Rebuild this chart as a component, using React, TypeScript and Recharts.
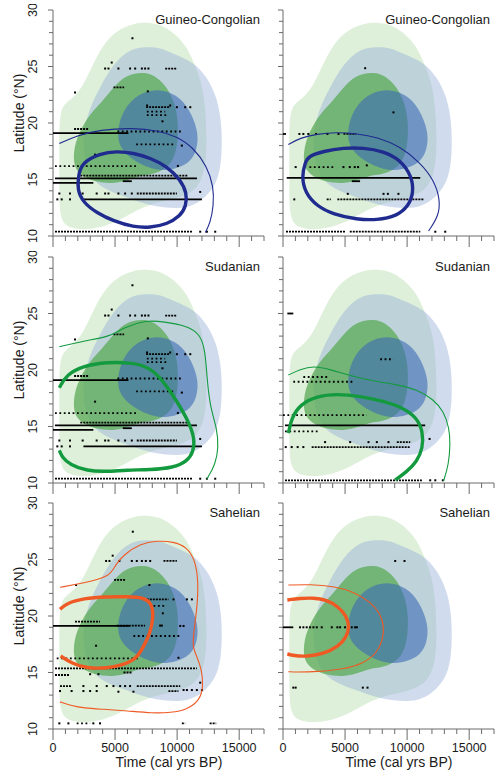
import React from 'react';
import { ScatterChart, Scatter, XAxis, YAxis, Curve } from 'recharts';

type P = [number, number];
type Run = [number, number, number, string];

// ---------- axes ----------
const xTicks = [0, 1000, 2000, 3000, 4000, 5000, 6000, 7000, 8000, 9000, 10000, 11000, 12000, 13000, 14000, 15000, 16000, 17000];
const yTicks = [10, 11, 12, 13, 14, 15, 16, 17, 18, 19, 20, 21, 22, 23, 24, 25, 26, 27, 28, 29, 30];
const xMajor = [0, 5000, 10000, 15000];
const yMajor = [10, 15, 20, 25, 30];

// ---------- shaded zones (same in every panel) ----------
const lightGreenZone: P[] = [
  [510, 21.4], [1370, 22.0], [2310, 23.0], [3120, 24.96], [4060, 27.0], [5140, 28.2], [6480, 28.85], [7830, 28.9],
  [8900, 28.6], [9980, 27.75], [10790, 26.7], [11330, 25.4], [12000, 23.5], [12270, 21.4], [12400, 18.5], [12270, 15.5],
  [11330, 13.75], [9440, 13.2], [8100, 12.9], [6750, 12.3], [5410, 11.4], [4060, 10.8], [2720, 10.56], [1640, 10.65],
  [510, 11.1], [510, 14.5], [510, 18.0],
];
const lightBlueZone: P[] = [
  [6210, 26.58], [7560, 26.73], [8630, 26.67], [9710, 26.1], [11330, 25.4], [12400, 24.07], [13210, 22.3], [13610, 19.94],
  [13610, 17.0], [13340, 15.2], [12800, 14.04], [11860, 13.0], [10790, 12.5], [9440, 12.45], [8100, 12.65], [7020, 13.0],
  [5410, 13.6], [3790, 14.34], [2850, 15.5], [2450, 17.3], [2450, 19.06], [2850, 21.1], [3790, 23.2], [4870, 25.25],
];
const greenZone: P[] = [
  [5410, 23.92], [6480, 24.42], [7560, 24.48], [8370, 24.07], [9170, 23.19], [9850, 21.71], [10110, 19.94], [10030, 17.88],
  [9580, 16.4], [8630, 15.66], [7560, 15.37], [7020, 15.37], [5680, 14.78], [4330, 14.63], [2990, 14.93], [2040, 15.52],
  [1640, 16.4], [1690, 17.88], [2180, 19.35], [2990, 20.83], [4060, 22.0],
];
const blueZone: P[] = [
  [5140, 18.76], [5410, 20.53], [6210, 22.0], [7560, 22.9], [8900, 22.95], [10250, 22.3], [11190, 20.83], [11730, 19.06],
  [11590, 17.58], [11060, 16.55], [9980, 15.96], [8630, 15.75], [7560, 16.1], [6480, 16.7], [5540, 17.58],
];

// ---------- site records ----------
const allSitesRuns: Run[] = [
  [10.38, 160, 11270, 'dense'], [13.24, 2450, 12000, 'solid'], [13.76, 6750, 9980, 'dense'], [14.7, 0, 3250, 'solid'],
  [14.85, 5620, 6350, 'solid'], [15.1, 160, 11600, 'solid'], [15.35, 2200, 10900, 'dense'], [16.18, 160, 6750, 'sparse'],
  [18.1, 6700, 9710, 'sparse'], [19.1, 0, 6080, 'solid'], [19.25, 5190, 10380, 'sparse'], [19.47, 1700, 2850, 'dense'],
  [20.7, 7560, 9170, 'sparse'], [21.0, 7560, 9040, 'sparse'], [21.4, 7500, 9440, 'dense'], [23.15, 4870, 5730, 'dense'],
  [24.82, 9040, 9930, 'dense'],
];
const allSitesDots: P[] = [
  [350, 13.24], [700, 13.24], [1370, 13.24],
  [510, 13.76], [1370, 13.76], [2390, 13.76], [3520, 13.76], [4200, 13.76], [4470, 13.76], [5270, 13.76], [5810, 13.76], [6350, 13.76],
  [11860, 13.9], [11860, 10.38], [12400, 10.38], [13070, 10.38], [10060, 16.2], [3390, 17.2], [10380, 18.0], [8820, 20.15],
  [9980, 21.4], [10650, 21.4], [11060, 21.4], [7580, 21.55], [9440, 21.55], [7640, 22.8], [1775, 22.7],
  [4200, 24.82], [4470, 24.82], [5270, 24.82], [6210, 24.82], [6620, 24.82], [7160, 24.82], [7420, 24.82], [7690, 24.82],
  [4730, 25.35], [6400, 27.5],
];

const gcRightRuns: Run[] = [
  [10.38, 240, 5000, 'dense'], [10.38, 5380, 11060, 'dense'], [13.24, 4380, 11330, 'dense'], [13.24, 3520, 3850, 'dense'],
  [15.15, 300, 11060, 'solid'], [14.85, 5540, 6210, 'solid'], [16.1, 2130, 4060, 'sparse'], [19.03, 0, 240, 'solid'],
  [19.03, 4870, 5900, 'dense'],
];
const gcRightDots: P[] = [
  [12270, 10.38], [13070, 10.38], [910, 13.24], [5220, 13.73], [8100, 13.73], [8450, 13.73], [9300, 13.73],
  [1020, 16.1], [4870, 16.1], [5380, 16.1], [5780, 16.1], [6050, 16.1], [6750, 16.25],
  [1320, 19.03], [1640, 19.03], [2040, 19.03], [2660, 19.03], [3580, 19.03], [4470, 19.03], [6620, 24.85], [8900, 20.94],
];

const sudRightRuns: Run[] = [
  [10.24, 160, 11190, 'dense'], [13.18, 2310, 10250, 'dense'], [13.62, 9170, 10250, 'dense'], [15.1, 160, 11460, 'solid'],
  [16.0, 0, 6750, 'sparse'], [18.96, 830, 5680, 'sparse'], [19.38, 1640, 3660, 'sparse'], [20.95, 7830, 8900, 'sparse'],
  [25.0, 350, 830, 'solid'], [14.57, 160, 2990, 'sparse'],
];
const sudRightDots: P[] = [
  [11860, 10.24], [12270, 10.24], [12880, 10.24], [220, 13.18], [700, 13.18], [1180, 13.18], [1640, 13.18],
  [3390, 13.62], [5410, 13.62], [6890, 13.62], [7560, 13.62], [8500, 13.62], [11810, 13.9],
];

const sahLeftRuns: Run[] = [
  [13.8, 6750, 10250, 'dense'], [13.8, 565, 1500, 'dense'], [15.37, 160, 11590, 'dense'], [15.0, 5680, 6350, 'dense'],
  [16.25, 300, 7020, 'sparse'], [18.23, 6480, 10380, 'sparse'], [19.12, 0, 6210, 'solid'], [19.15, 5140, 7420, 'dense'],
  [19.5, 1775, 3790, 'dense'], [20.9, 8100, 9170, 'sparse'], [21.47, 7560, 9300, 'dense'], [23.2, 4920, 5810, 'dense'],
  [24.87, 8900, 9980, 'dense'], [13.36, 9300, 10110, 'dense'], [10.5, 1910, 2990, 'sparse'], [10.5, 10380, 10650, 'dense'],
  [10.5, 12620, 13150, 'dense'], [14.78, 160, 1370, 'dense'],
];
const sahLeftDots: P[] = [
  [510, 10.5], [1240, 10.5], [3250, 10.5], [3790, 10.5],
  [565, 13.36], [1500, 13.36], [2450, 13.36], [2990, 13.36], [3520, 13.36], [5270, 13.3], [6480, 13.3],
  [10520, 13.45], [10790, 13.45], [11190, 13.45], [11590, 13.45], [12000, 13.45],
  [2450, 13.8], [3520, 13.8], [4330, 13.8], [4870, 13.8], [5410, 13.8], [5810, 13.8], [6210, 13.8], [11860, 14.1],
  [2990, 14.85], [3660, 14.85], [10110, 16.3], [3470, 17.37],
  [8630, 19.15], [8770, 19.15], [10250, 19.12], [10520, 19.12], [8850, 20.24],
  [9710, 21.47], [10790, 21.47], [11190, 21.47], [1860, 22.74], [7770, 22.74],
  [4280, 24.87], [4550, 24.87], [5350, 24.87], [6350, 24.87], [6750, 24.87], [7160, 24.87], [7480, 24.87], [7830, 24.87],
  [4810, 25.34], [6430, 27.46],
];

const sahRightRuns: Run[] = [[19.0, 0, 830, 'solid']];
const sahRightDots: P[] = [
  [1370, 19.0], [1640, 19.0], [1910, 19.0], [2180, 19.0], [2450, 19.0], [2720, 19.0], [3120, 19.0], [3930, 19.0],
  [4380, 19.0], [4600, 19.0], [5000, 19.0], [5270, 19.0], [5540, 19.0], [5810, 19.0], [5950, 19.0],
  [830, 13.66], [1020, 13.66], [6430, 13.66], [6810, 13.66], [9040, 24.87], [9790, 24.87],
];

// ---------- contour lines ----------
const gcLeftThick: P[] = [
  [2310, 16.47], [3790, 17.3], [5140, 17.5], [6480, 17.35], [7830, 16.9], [9170, 16.18], [10250, 15.0], [10790, 13.82],
  [10730, 12.65], [10250, 11.76], [9170, 11.03], [7830, 10.74], [6480, 10.8], [4870, 11.32], [3520, 12.06], [2450, 12.94],
  [1960, 14.1], [2040, 15.3],
];
const gcLeftThin: P[] = [
  [510, 18.18], [1910, 18.88], [3790, 19.41], [6480, 19.56], [8370, 19.35], [9980, 18.82], [11330, 17.8], [12400, 16.18],
  [12940, 14.41], [12940, 12.65], [12670, 11.18], [12270, 10.3],
];
const gcRightThick: P[] = [
  [2040, 17.06], [3250, 17.5], [4870, 17.8], [6480, 17.8], [8100, 17.5], [9440, 16.76], [10380, 15.3], [10520, 13.82],
  [10110, 12.65], [9170, 11.76], [7560, 11.4], [5950, 11.47], [4060, 11.91], [2720, 12.65], [1780, 13.82], [1510, 15.3],
  [1780, 16.47],
];
const gcRightThin: P[] = [
  [430, 18.09], [1370, 18.68], [2720, 19.03], [4330, 19.18], [5950, 19.06], [7560, 18.76], [9440, 17.94], [11060, 16.47],
  [12130, 15.0], [12670, 13.24], [12540, 11.76], [11730, 10.44],
];
const sudLeftThick: P[] = [
  [510, 18.43], [1100, 19.6], [2450, 20.36], [4330, 20.71], [6480, 20.65], [7830, 20.2], [8900, 19.0], [9980, 17.24],
  [10920, 15.46], [11410, 13.98], [11330, 12.79], [10790, 11.9], [9710, 11.36], [7830, 11.16], [5950, 11.16], [4330, 11.0],
  [2720, 11.07], [1370, 11.6], [700, 12.34], [510, 12.88],
];
const sudLeftThin: P[] = [
  [510, 22.05], [2450, 22.58], [4600, 22.94], [5680, 23.77], [7560, 24.42], [8900, 24.27], [10790, 23.92], [11860, 23.18],
  [12270, 21.69], [12400, 19.32], [12670, 16.65], [13210, 14.87], [13340, 13.09], [13070, 11.6], [12400, 10.36],
];
const sudRightThick: P[] = [
  [430, 14.42], [700, 15.76], [1370, 16.94], [2720, 17.69], [4330, 17.89], [6210, 17.69], [8100, 17.24], [9710, 16.65],
  [10790, 15.76], [11270, 14.57], [11270, 13.09], [10790, 11.9], [9980, 11.0], [9040, 10.27],
];
const sudRightThin: P[] = [
  [430, 19.55], [1370, 20.06], [2450, 20.36], [3790, 20.06], [5410, 19.47], [7560, 18.96], [9170, 18.72], [10790, 18.28],
  [12130, 17.39], [12940, 16.35], [13400, 14.87], [13480, 13.38], [13340, 11.6], [12940, 10.18],
];
const sahLeftThick: P[] = [
  [565, 20.59], [1100, 21.12], [2450, 21.56], [4330, 21.71], [5950, 21.71], [7290, 21.65], [7960, 21.12], [8100, 19.94],
  [7830, 18.47], [7290, 17.29], [6750, 16.25], [5680, 15.66], [4330, 15.37], [2720, 15.37], [1510, 15.81], [620, 16.46],
];
const sahLeftThin: P[] = [
  [565, 22.54], [2450, 22.9], [4600, 23.48], [5000, 24.5], [5680, 25.4], [7020, 26.4], [8370, 26.67], [9710, 26.58],
  [10790, 26.1], [11460, 24.96], [11730, 22.9], [11590, 20.53], [11330, 18.47], [11240, 17.29], [11590, 16.4], [12000, 15.22],
  [12100, 13.74], [11850, 12.57], [10770, 11.68], [9500, 11.45], [8000, 11.4], [6000, 11.6], [4000, 11.75], [2500, 11.85],
  [1500, 12.05], [565, 12.4],
];
const sahRightThick: P[] = [
  [350, 21.42], [1370, 21.56], [2450, 21.62], [3520, 21.42], [4470, 20.83], [5140, 19.94], [5350, 19.06], [5140, 18.17],
  [4470, 17.29], [3250, 16.64], [1910, 16.4], [830, 16.49], [350, 16.64],
];
const sahRightThin: P[] = [
  [430, 22.74], [2180, 22.8], [4060, 22.65], [5680, 22.15], [7020, 21.27], [7830, 20.24], [8150, 19.06], [8040, 17.88],
  [7560, 16.7], [6480, 15.81], [4870, 15.28], [2720, 15.07], [1100, 15.04], [430, 15.07],
];

// ---------- styling ----------
const FONT = '"Liberation Sans", Arial, Helvetica, sans-serif';
const AXIS = '#6b6b6b';
const TEXT = '#1a1a1a';
const BLUE = '#1f2b8e';
const GREEN = '#139a3f';
const ORANGE = '#ef5a24';

const zoneStyles = [
  { pts: lightGreenZone, fill: 'rgb(222,240,218)', op: 1 },
  { pts: lightBlueZone, fill: 'rgb(150,175,215)', op: 0.45 },
  { pts: greenZone, fill: 'rgb(90,170,85)', op: 0.75 },
  { pts: blueZone, fill: 'rgb(60,106,182)', op: 0.6 },
];

const runDash: Record<string, string | undefined> = { solid: undefined, dense: '2 1', sparse: '1.8 2.6' };

const panels = [
  { col: 0, row: 0, title: 'Guineo-Congolian', color: BLUE, thick: gcLeftThick, closed: true, thin: gcLeftThin, runs: allSitesRuns, dots: allSitesDots },
  { col: 1, row: 0, title: 'Guineo-Congolian', color: BLUE, thick: gcRightThick, closed: true, thin: gcRightThin, runs: gcRightRuns, dots: gcRightDots },
  { col: 0, row: 1, title: 'Sudanian', color: GREEN, thick: sudLeftThick, closed: false, thin: sudLeftThin, runs: allSitesRuns, dots: allSitesDots },
  { col: 1, row: 1, title: 'Sudanian', color: GREEN, thick: sudRightThick, closed: false, thin: sudRightThin, runs: sudRightRuns, dots: sudRightDots },
  { col: 0, row: 2, title: 'Sahelian', color: ORANGE, thick: sahLeftThick, closed: false, thin: sahLeftThin, runs: sahLeftRuns, dots: sahLeftDots },
  { col: 1, row: 2, title: 'Sahelian', color: ORANGE, thick: sahRightThick, closed: false, thin: sahRightThin, runs: sahRightRuns, dots: sahRightDots },
];

const PW = 211;
const PH = 226;
const YW = 50;
const MT = 6;
const MR = 6;
const colLeft = [53, 283];
const rowTop = [10, 257, 503];

const toPts = (a: P[]) => a.map(([x, y]) => ({ x, y }));
const noShape = () => <g />;
const dotShape = (p: any) => <rect x={p.cx - 1} y={p.cy - 1} width={2} height={2} fill="#000" />;

const makeXTick = (showLabel: boolean) => (props: any) => {
  const { x, y, payload } = props;
  const v = payload.value;
  const major = xMajor.includes(v);
  return (
    <g>
      <line x1={x} y1={y} x2={x} y2={y + (major ? 11 : 5)} stroke={AXIS} strokeWidth={1} />
      {showLabel && major && (
        <text x={x} y={y + 23} textAnchor="middle" fontSize={12.5} fontFamily={FONT} fill={TEXT}>{v}</text>
      )}
    </g>
  );
};

const makeYTick = (showLabel: boolean) => (props: any) => {
  const { x, y, payload } = props;
  const v = payload.value;
  const major = yMajor.includes(v);
  const lx = x - 21;
  return (
    <g>
      <line x1={x - (major ? 5 : 4)} y1={y} x2={x} y2={y} stroke={AXIS} strokeWidth={1} />
      {showLabel && major && (
        <text x={lx} y={y} transform={`rotate(-90 ${lx} ${y})`} textAnchor="middle" dy="0.36em" fontSize={12.5} fontFamily={FONT} fill={TEXT}>{v}</text>
      )}
    </g>
  );
};

function renderPanel(p: any, i: number) {
  const left = colLeft[p.col];
  const top = rowTop[p.row];
  const bottomRow = p.row === 2;
  const XH = bottomRow ? 44 : 16;
  return (
    <div key={i} style={{ position: 'absolute', left: left - YW, top: top - MT }}>
      <ScatterChart width={YW + PW + MR} height={MT + PH + XH} margin={{ top: MT, right: MR, bottom: 0, left: 0 }}>
        <XAxis type="number" dataKey="x" domain={[0, 17000]} ticks={xTicks} interval={0} height={XH}
          tickSize={0} tickMargin={0} tickLine={false} tick={makeXTick(bottomRow)} axisLine={{ stroke: AXIS }} />
        <XAxis xAxisId="top" orientation="top" type="number" domain={[0, 17000]} height={0}
          tick={false} tickLine={false} axisLine={{ stroke: AXIS }} />
        <YAxis type="number" dataKey="y" domain={[10, 30]} ticks={yTicks} interval={0} width={YW}
          tickSize={0} tickMargin={0} tickLine={false} tick={makeYTick(p.col === 0)} axisLine={{ stroke: AXIS }} />
        <YAxis yAxisId="right" orientation="right" type="number" domain={[10, 30]} width={0}
          tick={false} tickLine={false} axisLine={{ stroke: AXIS }} />

        {zoneStyles.map((z, k) => (
          <Scatter key={`z${k}`} data={toPts(z.pts)} isAnimationActive={false} shape={noShape}
            line={(lp: any) => <Curve points={lp.points} type="basisClosed" fill={z.fill} fillOpacity={z.op} stroke="none" />} />
        ))}

        {p.runs.map((r: Run, k: number) => (
          <Scatter key={`r${k}`} data={[{ x: r[1], y: r[0] }, { x: r[2], y: r[0] }]} isAnimationActive={false} shape={noShape}
            line={(lp: any) => <Curve points={lp.points} type="linear" fill="none" stroke="#000" strokeWidth={1.8} strokeDasharray={runDash[r[3]]} />} />
        ))}

        <Scatter data={toPts(p.dots)} isAnimationActive={false} shape={dotShape} />

        <Scatter data={toPts(p.thin)} isAnimationActive={false} shape={noShape}
          line={(lp: any) => <Curve points={lp.points} type="basis" fill="none" stroke={p.color} strokeWidth={1.1} />} />
        <Scatter data={toPts(p.thick)} isAnimationActive={false} shape={noShape}
          line={(lp: any) => <Curve points={lp.points} type={p.closed ? 'basisClosed' : 'basis'} fill="none" stroke={p.color} strokeWidth={3.4} />} />
      </ScatterChart>
    </div>
  );
}

export default function App() {
  return (
    <div style={{ position: 'absolute', left: 0, top: 0, width: 496, height: 773, background: '#fff', fontFamily: FONT }}>
      {panels.map(renderPanel)}
      <svg width={496} height={773} style={{ position: 'absolute', left: 0, top: 0, pointerEvents: 'none' }}>
        {panels.map((p, i) => (
          <text key={`t${i}`} x={colLeft[p.col] + PW - 4} y={rowTop[p.row] + 13.5} textAnchor="end" fontSize={13} fontFamily={FONT} fill={TEXT}>{p.title}</text>
        ))}
        {rowTop.map((t, i) => (
          <text key={`y${i}`} x={19} y={t + 103} transform={`rotate(-90 19 ${t + 103})`} textAnchor="middle" dy="0.36em" fontSize={14} fontFamily={FONT} fill={TEXT}>Latitude (°N)</text>
        ))}
        {colLeft.map((l, i) => (
          <text key={`x${i}`} x={l + 116} y={767} textAnchor="middle" fontSize={14} fontFamily={FONT} fill={TEXT}>Time (cal yrs BP)</text>
        ))}
      </svg>
    </div>
  );
}
